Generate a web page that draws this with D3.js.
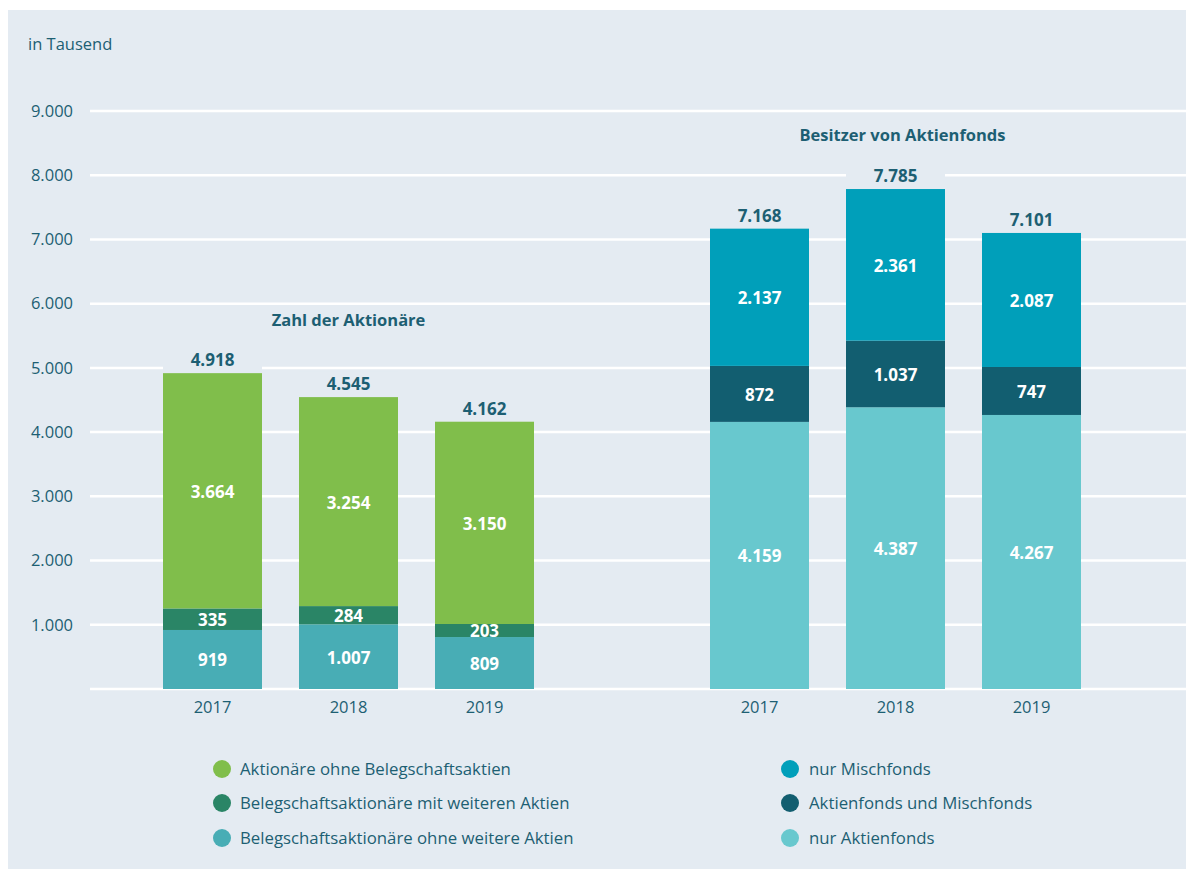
<!DOCTYPE html>
<html><head><meta charset="utf-8">
<script src="https://cdn.jsdelivr.net/npm/d3@7"></script>
<style>
html,body{margin:0;padding:0;background:#fff;}
svg{display:block;font-family:"Open Sans","Noto Sans",sans-serif;}
</style></head>
<body>
<svg id="c" width="1186" height="869"></svg>
<script>
const years = ["2017","2018","2019"];
const yTicks = [1000,2000,3000,4000,5000,6000,7000,8000,9000];
// Group 1: Zahl der Aktionäre (bottom to top)
const aktBelegOhne = [919, 1007, 809];
const aktBelegMit = [335, 284, 203];
const aktOhneBeleg = [3664, 3254, 3150];
const aktTotals = [4918, 4545, 4162];
// Group 2: Besitzer von Aktienfonds (bottom to top)
const nurAktienfonds = [4159, 4387, 4267];
const aktUndMisch = [872, 1037, 747];
const nurMischfonds = [2137, 2361, 2087];
const fondsTotals = [7168, 7785, 7101];

const titles = ["Zahl der Aktionäre", "Besitzer von Aktienfonds"];
const unitLabel = "in Tausend";

const groups = [
  {title: titles[0], totals: aktTotals, series: [
    {name:"Belegschaftsaktionäre ohne weitere Aktien", values: aktBelegOhne, color:"#48adb5"},
    {name:"Belegschaftsaktionäre mit weiteren Aktien", values: aktBelegMit, color:"#2a8566"},
    {name:"Aktionäre ohne Belegschaftsaktien", values: aktOhneBeleg, color:"#80be4b"}
  ]},
  {title: titles[1], totals: fondsTotals, series: [
    {name:"nur Aktienfonds", values: nurAktienfonds, color:"#68c8ce"},
    {name:"Aktienfonds und Mischfonds", values: aktUndMisch, color:"#125e70"},
    {name:"nur Mischfonds", values: nurMischfonds, color:"#009fba"}
  ]}
];

const textColor = "#1d5f73";
const bg = "#e4ebf2";
const de = d3.formatLocale({decimal:",", thousands:".", grouping:[3], currency:["","€"]});
const fmt = de.format(",d");

const svg = d3.select("#c");
svg.append("rect").attr("x",8).attr("y",10).attr("width",1178).attr("height",859).attr("fill",bg);

const y = d3.scaleLinear().domain([0,9000]).range([689,111]);

// gridlines
svg.append("g").selectAll("line").data([0].concat(yTicks)).join("line")
  .attr("x1",90).attr("x2",1186)
  .attr("y1",d=>y(d)).attr("y2",d=>y(d))
  .attr("stroke","#fff").attr("stroke-width",2.5);

// y axis labels
svg.append("g").selectAll("text").data(yTicks).join("text")
  .attr("x",73).attr("y",d=>y(d)).attr("dy","0.35em")
  .attr("text-anchor","end").attr("fill",textColor).attr("font-size",16.5)
  .text(d=>fmt(d));

svg.append("text").attr("x",28).attr("y",50).attr("fill",textColor)
  .attr("font-size",16.5).text(unitLabel);

const ranges = [[144.5,552.5],[691.5,1099.5]];
const titleY = [326, 141];

groups.forEach((g,gi)=>{
  const x = d3.scaleBand().domain(years).range(ranges[gi]).paddingInner(37/136).paddingOuter(37/272);
  const stack = years.map((yr,i)=>{
    let acc = 0;
    return g.series.map(s=>{const v=s.values[i]; const seg={yr, y0:acc, y1:acc+v, v, color:s.color}; acc+=v; return seg;});
  });
  const gg = svg.append("g");
  // total label backgrounds (hide gridlines behind labels)
  gg.selectAll("rect.tb").data(years).join("rect").attr("class","tb")
    .attr("x",d=>x(d)).attr("width",x.bandwidth())
    .attr("y",(d,i)=>y(g.totals[i])-26).attr("height",26).attr("fill",bg);
  stack.forEach(segs=>{
    gg.selectAll(null).data(segs).join("rect")
      .attr("x",d=>x(d.yr)).attr("width",x.bandwidth())
      .attr("y",d=>y(d.y1)).attr("height",d=>y(d.y0)-y(d.y1))
      .attr("fill",d=>d.color);
    gg.selectAll(null).data(segs).join("text")
      .attr("x",d=>x(d.yr)+x.bandwidth()/2)
      .attr("y",d=>(y(d.y0)+y(d.y1))/2+1).attr("dy","0.35em")
      .attr("text-anchor","middle").attr("fill","#fff")
      .attr("font-size",17).attr("font-weight","bold").text(d=>fmt(d.v));
  });
  gg.selectAll("text.tot").data(years).join("text").attr("class","tot")
    .attr("x",d=>x(d)+x.bandwidth()/2).attr("y",(d,i)=>y(g.totals[i])-7)
    .attr("text-anchor","middle").attr("fill",textColor)
    .attr("font-size",17).attr("font-weight","bold").text((d,i)=>fmt(g.totals[i]));
  gg.selectAll("text.yr").data(years).join("text").attr("class","yr")
    .attr("x",d=>x(d)+x.bandwidth()/2).attr("y",713)
    .attr("text-anchor","middle").attr("fill",textColor)
    .attr("font-size",16.5).text(d=>d);
  gg.append("text").attr("x",(ranges[gi][0]+ranges[gi][1])/2 + (gi?7:0)).attr("y",titleY[gi])
    .attr("text-anchor","middle").attr("fill",textColor)
    .attr("font-size",16.5).attr("font-weight","bold").text(g.title);
});

// legend
const legendCols = [{cx:222, tx:240}, {cx:790, tx:809}];
const legendY = [769, 803, 838];
groups.forEach((g,gi)=>{
  const items = g.series.slice().reverse();
  const lg = svg.append("g");
  lg.selectAll("circle").data(items).join("circle")
    .attr("cx",legendCols[gi].cx).attr("cy",(d,i)=>legendY[i]).attr("r",9)
    .attr("fill",d=>d.color);
  lg.selectAll("text").data(items).join("text")
    .attr("x",legendCols[gi].tx).attr("y",(d,i)=>legendY[i]).attr("dy","0.35em")
    .attr("fill",textColor).attr("font-size",16.8).text(d=>d.name);
});
</script>
</body></html>
